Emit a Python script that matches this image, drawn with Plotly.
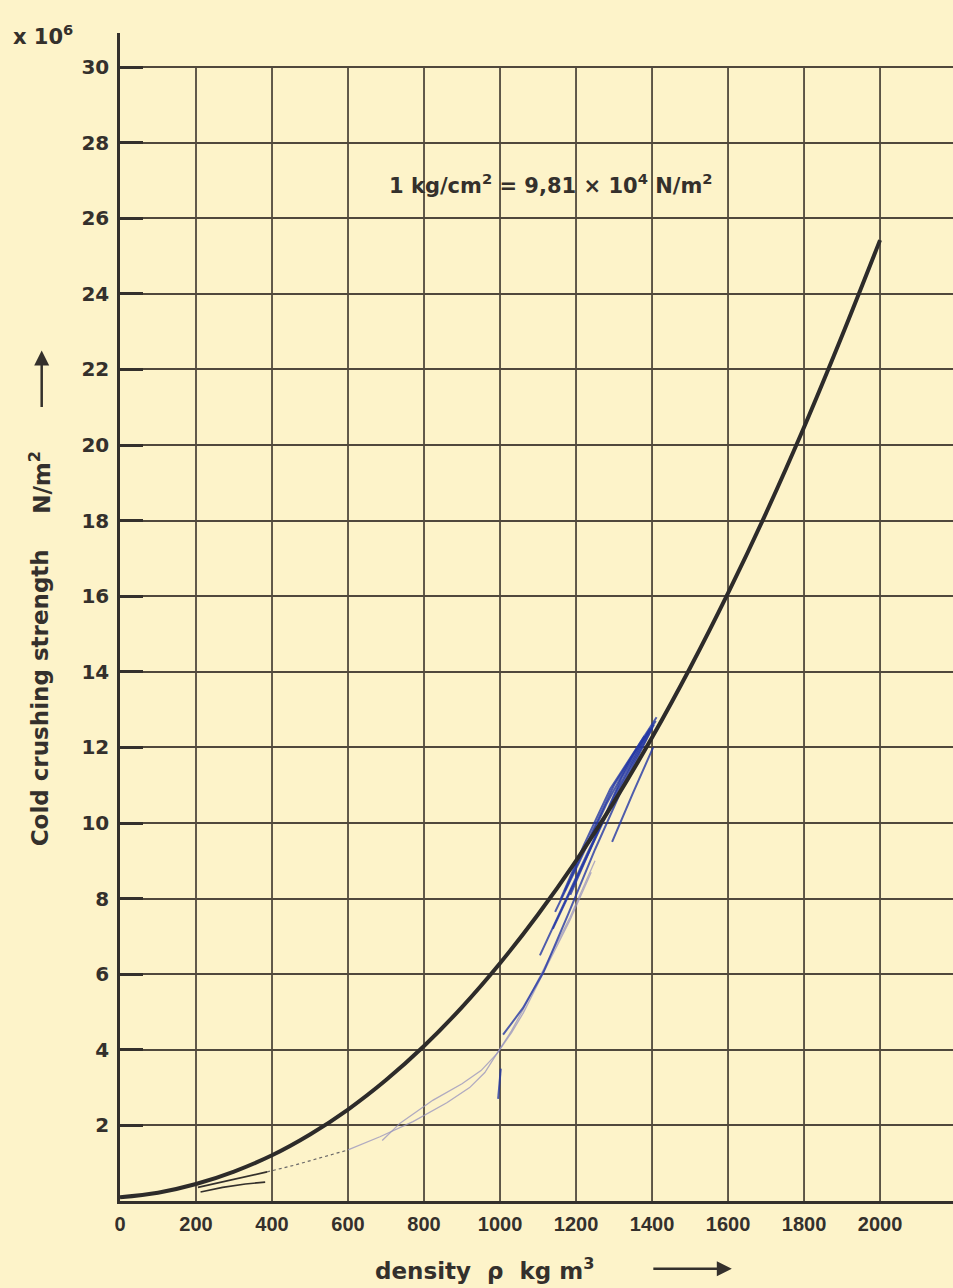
import plotly.graph_objects as go

# ---- data ----
main_x = [0, 100, 200, 300, 400, 500, 600, 700, 800, 900, 1000, 1100, 1200, 1300, 1400, 1500, 1600, 1700, 1800, 1900, 2000]
main_y = [0.1, 0.22, 0.45, 0.78, 1.21, 1.76, 2.42, 3.2, 4.1, 5.13, 6.29, 7.58, 9.0, 10.56, 12.26, 14.1, 16.08, 18.2, 20.47, 22.89, 25.42]

short1_x = [205, 260, 320, 387]
short1_y = [0.36, 0.48, 0.62, 0.77]
short2_x = [212, 270, 330, 382]
short2_y = [0.24, 0.36, 0.45, 0.5]

dot_x = [387, 460, 526, 600]
dot_y = [0.77, 0.95, 1.14, 1.35]

grey1_x = [600, 684, 771, 860, 920, 960, 995, 1030, 1060, 1114, 1184, 1250]
grey1_y = [1.35, 1.7, 2.1, 2.6, 3.0, 3.4, 3.95, 4.5, 5.05, 6.1, 7.5, 9.0]
grey2_x = [690, 737, 824, 900, 950, 992, 1030, 1061, 1114, 1184, 1240]
grey2_y = [1.6, 2.06, 2.67, 3.1, 3.45, 3.9, 4.45, 4.97, 6.03, 7.43, 8.7]

blue1_x = [1008, 1060, 1114, 1180, 1250, 1330, 1400]
blue1_y = [4.4, 5.1, 6.05, 7.6, 9.3, 11.1, 12.5]
blue2_x = [1105, 1160, 1230, 1310, 1390]
blue2_y = [6.5, 7.7, 9.2, 10.9, 12.4]
blue3_x = [1139, 1200, 1270, 1340, 1405]
blue3_y = [7.2, 8.5, 10.0, 11.4, 12.6]
blue4_x = [1145, 1210, 1280, 1350, 1410]
blue4_y = [7.65, 9.0, 10.5, 11.8, 12.7]
blue5_x = [1170, 1230, 1300, 1380]
blue5_y = [8.2, 9.5, 11.0, 12.3]
blue6_x = [1295, 1350, 1403]
blue6_y = [9.5, 10.8, 12.0]
blue7_x = [995, 1002]
blue7_y = [2.7, 3.5]
blue8_x = [1160, 1220, 1290, 1360, 1412]
blue8_y = [8.0, 9.4, 10.9, 12.0, 12.8]
blue9_x = [1185, 1250, 1320, 1395]
blue9_y = [8.1, 9.6, 11.2, 12.5]

x_ticks = [0, 200, 400, 600, 800, 1000, 1200, 1400, 1600, 1800, 2000]
y_ticks = [2, 4, 6, 8, 10, 12, 14, 16, 18, 20, 22, 24, 26, 28, 30]

# ---- style ----
paper = "rgb(253,243,201)"
ink = "rgb(52,48,44)"
grid = "rgb(80,72,60)"
blue = "rgba(35,55,165,0.8)"
lav = "rgba(150,145,190,0.75)"

fig = go.Figure()

def line(x, y, color, width, dash="solid", shape="linear"):
    fig.add_trace(go.Scatter(x=x, y=y, mode="lines", line=dict(color=color, width=width, dash=dash, shape=shape),
                             hoverinfo="skip", showlegend=False))

line(grey1_x, grey1_y, lav, 1.3)
line(grey2_x, grey2_y, lav, 1.3)
line(dot_x, dot_y, "rgba(70,70,80,0.8)", 1.2, "dot")
line(short1_x, short1_y, ink, 1.8)
line(short2_x, short2_y, ink, 1.6)
for bx, by in [(blue1_x, blue1_y), (blue2_x, blue2_y), (blue3_x, blue3_y), (blue4_x, blue4_y),
               (blue5_x, blue5_y), (blue6_x, blue6_y), (blue7_x, blue7_y), (blue8_x, blue8_y),
               (blue9_x, blue9_y)]:
    line(bx, by, blue, 2)
line(main_x, main_y, "rgb(45,43,42)", 4, shape="spline")

# vertical grid lines stop at 30
for xv in x_ticks[1:]:
    fig.add_shape(type="line", x0=xv, x1=xv, y0=0, y1=30, xref="x", yref="y",
                  line=dict(color=grid, width=1.8), layer="below")

fig.update_layout(
    width=953, height=1288,
    margin=dict(l=120, r=0, t=33, b=87),
    paper_bgcolor=paper, plot_bgcolor=paper,
    xaxis=dict(range=[0, 2192], tickvals=x_ticks, ticktext=[str(v) for v in x_ticks],
               showgrid=False, zeroline=False, showline=True, linecolor=ink, linewidth=2.5,
               ticks="", ticklabelstandoff=3,
               tickfont=dict(family="Liberation Sans", size=20, color=ink, weight="bold")),
    yaxis=dict(range=[0, 30.9], tickvals=y_ticks, ticktext=[str(v) for v in y_ticks],
               showgrid=True, gridcolor=grid, gridwidth=1.8, zeroline=False,
               showline=True, linecolor=ink, linewidth=2.5,
               ticks="inside", ticklen=23, tickwidth=3, tickcolor=ink, ticklabelstandoff=4,
               tickfont=dict(family="DejaVu Sans", size=20, color=ink, weight="bold")),
)

title_font = dict(family="DejaVu Sans", size=23, color=ink, weight="bold")

fig.add_annotation(text="x 10<sup>6</sup>", xref="paper", yref="paper", x=-0.093, y=0.998,
                   xanchor="center", yanchor="middle", showarrow=False,
                   font=dict(family="DejaVu Sans", size=21, color=ink, weight="bold"))
fig.add_annotation(text="1 kg/cm<sup>2</sup> = 9,81 × 10<sup>4</sup> N/m<sup>2</sup>",
                   xref="x", yref="y", x=1135, y=26.9, showarrow=False,
                   xanchor="center", yanchor="middle",
                   font=dict(family="DejaVu Sans", size=21, color=ink, weight="bold"))
# y-axis title pieces
fig.add_annotation(text="Cold crushing strength", xref="paper", yref="y", x=-0.096, y=13.3,
                   xanchor="center", yanchor="middle",
                   textangle=-90, showarrow=False, font=title_font)
fig.add_annotation(text="N/m<sup>2</sup>", xref="paper", yref="y", x=-0.096, y=19.0,
                   xanchor="center", yanchor="middle",
                   textangle=-90, showarrow=False, font=title_font)
fig.add_annotation(text="", xref="paper", yref="y", x=-0.094, y=22.5, ax=0, ay=58,
                   showarrow=True, arrowhead=2, arrowsize=1.2, arrowwidth=2.5, arrowcolor=ink)
# x-axis title pieces
fig.add_annotation(text="density  ρ  kg m<sup>3</sup>", xref="x", yref="paper", x=960, y=-0.058,
                   xanchor="center", yanchor="middle",
                   showarrow=False, font=title_font)
fig.add_annotation(text="", xref="x", yref="paper", x=1610, y=-0.058, ax=-80, ay=0,
                   showarrow=True, arrowhead=2, arrowsize=1.2, arrowwidth=2.5, arrowcolor=ink)

fig.write_html("out.html", config={"displayModeBar": False},
               post_script="document.body.style.margin='0';document.body.style.overflow='hidden';")
